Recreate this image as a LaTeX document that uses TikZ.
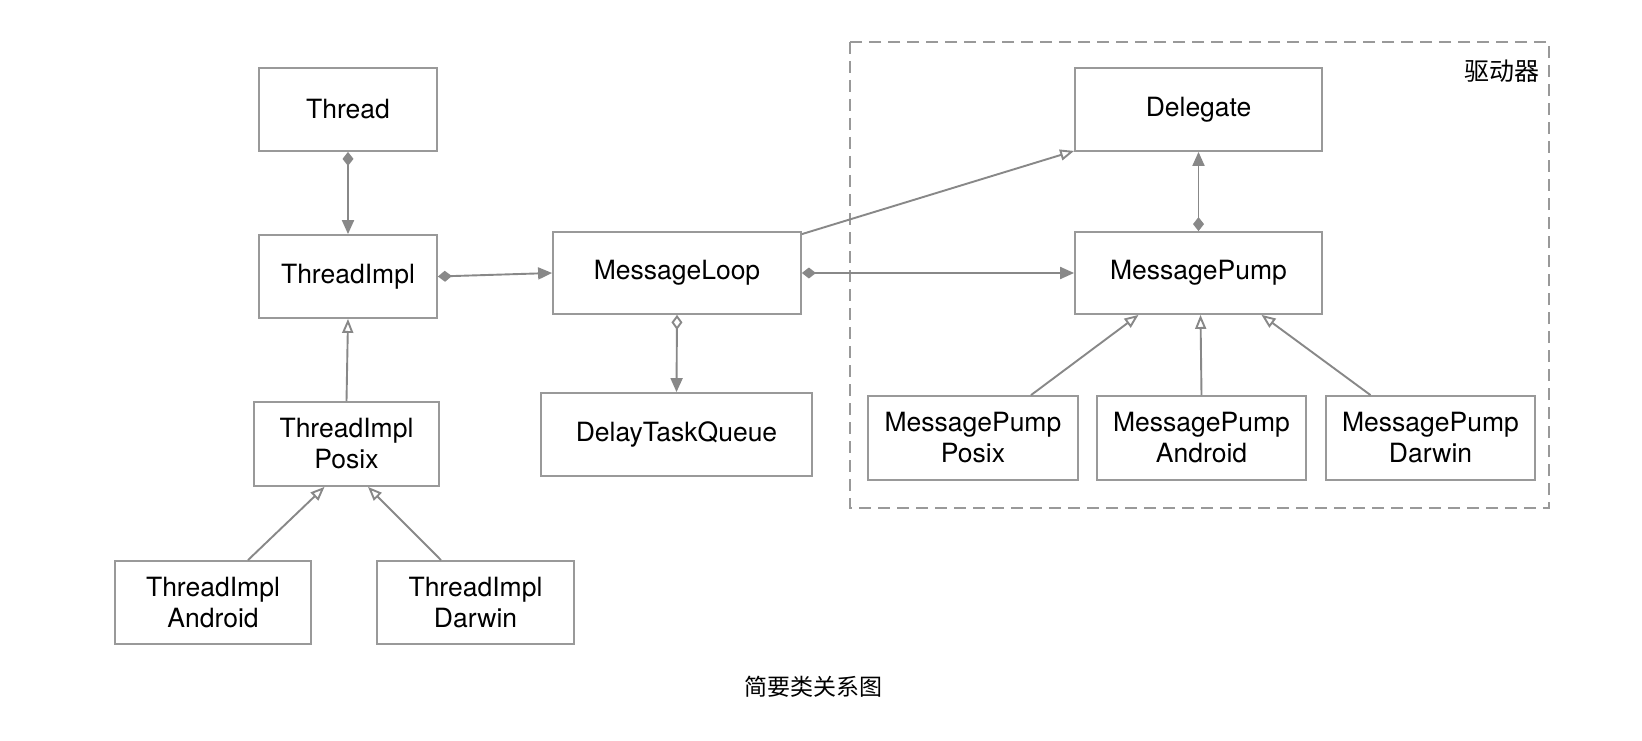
\documentclass[tikz,border=0pt]{standalone}
\usepackage{fontspec}
\setmainfont{TeX Gyre Heros}
\newfontfamily\cjk{Noto Sans CJK SC}
\usetikzlibrary{arrows.meta,calc}
\definecolor{linegray}{HTML}{888888}
\definecolor{boxgray}{HTML}{999999}
\tikzset{
  cls/.style={draw=boxgray, line width=1.8pt, fill=white, align=center,
    font=\fontsize{26.5}{31}\selectfont, inner sep=0pt},
  conn/.style={draw=linegray, line width=1.9pt},
  comp/.style={conn, {Diamond[length=14pt,width=11pt,fill=linegray]}-{Triangle[length=14pt,width=12pt,fill=linegray]}},
  aggr/.style={conn, {Diamond[open,length=15pt,width=11pt,fill=white]}-{Triangle[length=14pt,width=12pt,fill=linegray]}},
  inher/.style={conn, -{Triangle[open,length=14pt,width=11pt,fill=white]}},
}
\begin{document}
\begin{tikzpicture}[x=1pt,y=-1pt]
\useasboundingbox (0,0) rectangle (1642,741);
\fill[white] (0,0) rectangle (1642,741);
% driver group
\draw[boxgray, line width=1.8pt, dash pattern=on 12pt off 7pt] (850,42) rectangle (1549,508);
\node[font=\cjk\fontsize{25}{30}\selectfont] (drvlabel) at (1502,71) {驱动器};
% classes
\node[cls, minimum width=178pt, minimum height=83pt] (Thread) at (348,109.5) {Thread};
\node[cls, minimum width=178pt, minimum height=83pt] (ThreadImpl) at (348,276.5) {ThreadImpl};
\node[cls, minimum width=248pt, minimum height=82pt] (MessageLoop) at (677,273) {MessageLoop};
\node[cls, minimum width=271pt, minimum height=83pt] (DelayTaskQueue) at (676.5,434.5) {DelayTaskQueue};
\node[cls, minimum width=185pt, minimum height=84pt] (TIPosix) at (346.5,444) {ThreadImpl\\Posix};
\node[cls, minimum width=196pt, minimum height=83pt] (TIAndroid) at (213,602.5) {ThreadImpl\\Android};
\node[cls, minimum width=197pt, minimum height=83pt] (TIDarwin) at (475.5,602.5) {ThreadImpl\\Darwin};
\node[cls, minimum width=247pt, minimum height=83pt] (Delegate) at (1198.5,109.5) {Delegate};
\node[cls, minimum width=247pt, minimum height=82pt] (MessagePump) at (1198.5,273) {MessagePump};
\node[cls, minimum width=210pt, minimum height=84pt] (MPPosix) at (973,438) {MessagePump\\Posix};
\node[cls, minimum width=209pt, minimum height=84pt] (MPAndroid) at (1201.5,438) {MessagePump\\Android};
\node[cls, minimum width=209pt, minimum height=84pt] (MPDarwin) at (1430.5,438) {MessagePump\\Darwin};
% caption
\node[font=\cjk\fontsize{23}{28}\selectfont] (caption) at (813,687) {简要类关系图};
% connectors
\draw[comp] (Thread.south) -- (ThreadImpl.north);
\draw[comp] (ThreadImpl.east) -- (MessageLoop.west);
\draw[aggr] (MessageLoop.south) -- (DelayTaskQueue.north);
\draw[comp] (MessageLoop.east) -- (MessagePump.west);
\draw[comp] (MessagePump.north) -- (Delegate.south);
\draw[inher] ($(MessageLoop.north east)+(0,3)$) -- ($(Delegate.south west)+(0,-1)$);
\draw[inher] (TIPosix.north) -- (ThreadImpl.south);
\draw[inher] ($(TIAndroid.north)+(35,0)$) -- ($(TIPosix.south)+(-22,0)$);
\draw[inher] ($(TIDarwin.north)+(-34.5,0)$) -- ($(TIPosix.south)+(21.5,0)$);
\draw[inher] ($(MPPosix.north)+(58,0)$) -- ($(MessagePump.south)+(-60,0)$);
\draw[inher] (MPAndroid.north) -- ($(MessagePump.south)+(2,0)$);
\draw[inher] ($(MPDarwin.north)+(-60,0)$) -- ($(MessagePump.south)+(63,0)$);
\end{tikzpicture}
\end{document}
